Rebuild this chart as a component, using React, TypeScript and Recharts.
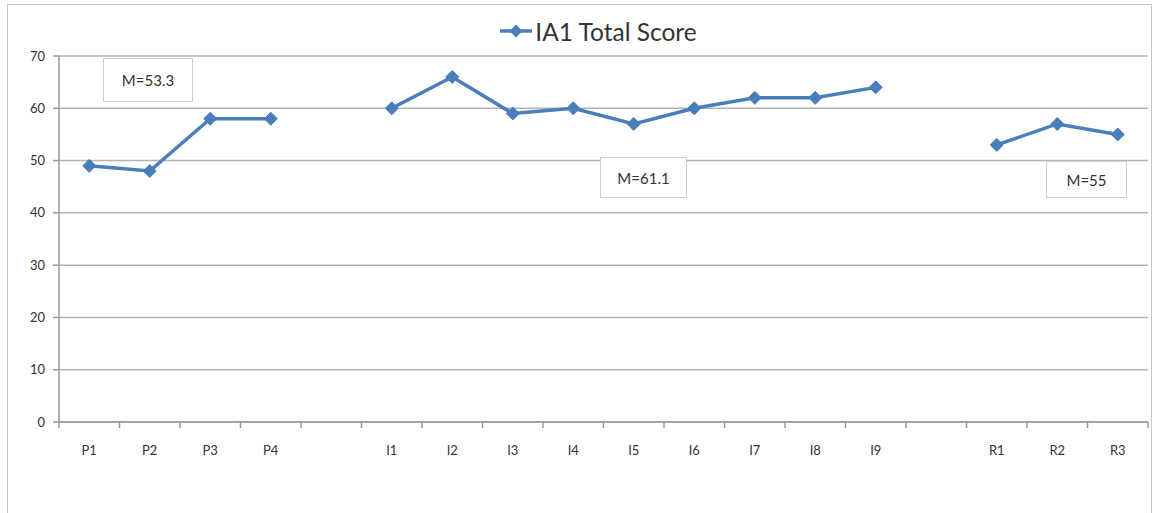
import React from "react";
import { LineChart, Line, XAxis, YAxis, CartesianGrid, Legend } from "recharts";

const CATEGORIES = [
  "P1", "P2", "P3", "P4", "",
  "I1", "I2", "I3", "I4", "I5", "I6", "I7", "I8", "I9", "",
  "R1", "R2", "R3",
];
const SCORES: (number | null)[] = [
  49, 48, 58, 58, null,
  60, 66, 59, 60, 57, 60, 62, 62, 64, null,
  53, 57, 55,
];
const Y_TICKS = [0, 10, 20, 30, 40, 50, 60, 70];
const MEANS = [
  { label: "M=53.3", left: 103, top: 58, w: 90, h: 44 },
  { label: "M=61.1", left: 600, top: 157, w: 87, h: 41 },
  { label: "M=55", left: 1046, top: 161, w: 81, h: 37 },
];

const W = 1154;
const H = 513;
const MARGIN = { top: 6, right: 6, left: 9, bottom: 0 };
const Y_AXIS_W = 50;
const X_AXIS_H = 91;
const PLOT_W = W - MARGIN.left - MARGIN.right - Y_AXIS_W;
const BAND = PLOT_W / CATEGORIES.length;

const BLUE = "#4a7ebb";
const FONT = "Lato, 'Liberation Sans', sans-serif";

const data = CATEGORIES.map((c, i) => ({ cat: `${c}#${i}`, label: c, score: SCORES[i] }));

function Diamond(props: any) {
  const { cx, cy, value } = props;
  if (value == null || cx == null || cy == null) return null;
  const r = 6.5;
  return (
    <polygon
      points={`${cx},${cy - r} ${cx + r},${cy} ${cx},${cy + r} ${cx - r},${cy}`}
      fill={BLUE}
      stroke={BLUE}
      strokeWidth={1}
    />
  );
}

function XTick(props: any) {
  const { x, y, index } = props;
  const y0 = y - 8;
  const label = CATEGORIES[index];
  const last = index === CATEGORIES.length - 1;
  return (
    <g>
      <line x1={x - BAND / 2} x2={x - BAND / 2} y1={y0} y2={y0 + 6} stroke="#999" strokeWidth={1.5} />
      {last && <line x1={x + BAND / 2} x2={x + BAND / 2} y1={y0} y2={y0 + 6} stroke="#999" strokeWidth={1.5} />}
      <text x={x} y={y0 + 33} textAnchor="middle" fontSize={13} fill="#333" fontFamily={FONT}>
        {label}
      </text>
    </g>
  );
}

function LegendBox() {
  return (
    <div style={{ height: 50, display: "flex", alignItems: "center", justifyContent: "center", paddingLeft: 40 }}>
      <svg width={32} height={16} style={{ marginRight: 3 }}>
        <line x1={0} x2={32} y1={8} y2={8} stroke={BLUE} strokeWidth={3.5} />
        <polygon points="16,1.5 22.5,8 16,14.5 9.5,8" fill={BLUE} />
      </svg>
      <span style={{ fontFamily: FONT, fontSize: 24.5, color: "#333" }}>IA1 Total Score</span>
    </div>
  );
}

export default function App() {
  return (
    <div style={{ position: "absolute", left: 0, top: 0, width: W, height: H, overflow: "hidden", background: "#fff" }}>
      <div
        style={{
          position: "absolute",
          left: 7,
          top: 4,
          width: 1145,
          height: 560,
          border: "1.5px solid #c8c8c8",
          boxSizing: "border-box",
        }}
      />
      <div style={{ position: "absolute", left: 0, top: 0 }}>
        <LineChart width={W} height={H} data={data} margin={MARGIN}>
          <CartesianGrid vertical={false} stroke="#b4b4b4" strokeWidth={1.5} />
          <XAxis
            dataKey="cat"
            type="category"
            interval={0}
            padding={{ left: BAND / 2, right: BAND / 2 }}
            axisLine={{ stroke: "#999", strokeWidth: 1.5 }}
            tickLine={false}
            tick={<XTick />}
            height={X_AXIS_H}
          />
          <YAxis
            domain={[0, 70]}
            ticks={Y_TICKS}
            width={Y_AXIS_W}
            axisLine={{ stroke: "#999", strokeWidth: 1.5 }}
            tickLine={{ stroke: "#999", strokeWidth: 1.5 }}
            tickSize={6}
            tickMargin={8}
            tick={{ fontSize: 13, fill: "#333", fontFamily: FONT }}
          />
          <Legend verticalAlign="top" align="center" height={50} content={<LegendBox />} />
          <Line
            dataKey="score"
            stroke={BLUE}
            strokeWidth={3.5}
            dot={<Diamond />}
            activeDot={false}
            connectNulls={false}
            isAnimationActive={false}
          />
        </LineChart>
      </div>
      {MEANS.map((m) => (
        <div
          key={m.label}
          style={{
            position: "absolute",
            left: m.left,
            top: m.top,
            width: m.w,
            height: m.h,
            background: "#fff",
            border: "1.5px solid #cfcfcf",
            boxSizing: "border-box",
            display: "flex",
            alignItems: "center",
            justifyContent: "center",
            fontFamily: FONT,
            fontSize: 15,
            color: "#333",
          }}
        >
          {m.label}
        </div>
      ))}
    </div>
  );
}
